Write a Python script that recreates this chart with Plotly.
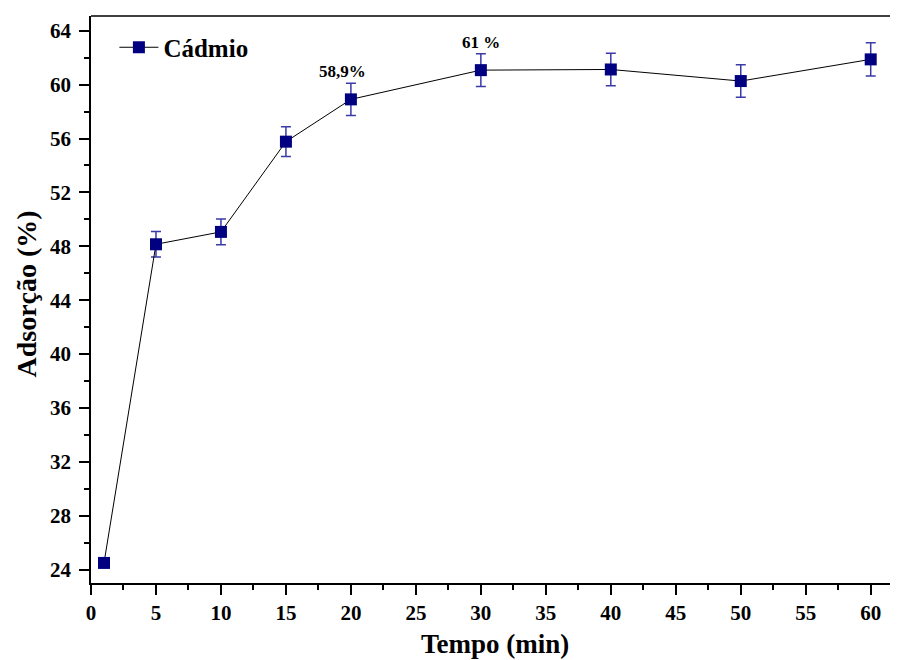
import plotly.graph_objects as go

tempo = [1, 5, 10, 15, 20, 30, 40, 50, 60]
adsorcao = [24.49, 48.15, 49.07, 55.77, 58.91, 61.08, 61.13, 60.27, 61.88]
erro = [0.25, 0.95, 0.96, 1.11, 1.19, 1.21, 1.21, 1.21, 1.24]
rotulos_x = [20, 30]
rotulos_y = [58.91, 61.08]
rotulos_txt = ["58,9%", "61 %"]

FONT = "Liberation Serif"

fig = go.Figure()
fig.add_trace(go.Scatter(
    x=tempo, y=adsorcao, mode="lines+markers", name="Cádmio",
    line=dict(color="black", width=1),
    marker=dict(symbol="square", size=12, color="#000080",
                line=dict(color="#000080", width=0)),
    error_y=dict(type="data", array=erro, visible=True,
                 color="#3a3aa8", thickness=1.5, width=5),
))

for xv, yv, t, xs, ys in zip(rotulos_x, rotulos_y, rotulos_txt, [-8, 0], [28, 28]):
    fig.add_annotation(x=xv, y=yv, text=t, showarrow=False,
                       xshift=xs, yshift=ys,
                       font=dict(family=FONT, size=17, color="black", weight="bold"))

axis_common = dict(
    showline=True, linecolor="black", linewidth=1.5, mirror=False,
    ticks="outside", ticklen=10, tickwidth=1.5, tickcolor="black",
    showgrid=False, zeroline=False, automargin=False,
    tickfont=dict(family=FONT, size=21, color="black", weight="bold"),
)

fig.update_xaxes(
    range=[0, 62.1], dtick=5, tick0=0,
    minor=dict(ticks="outside", ticklen=5, tickwidth=1.5, tickcolor="black", dtick=2.5, tick0=0),
    **axis_common,
)
fig.update_yaxes(
    range=[23.0, 65.1], dtick=4, tick0=0, ticklabelstandoff=4,
    minor=dict(ticks="outside", ticklen=5, tickwidth=1.5, tickcolor="black", dtick=2, tick0=0),
    **axis_common,
)

# axis titles
fig.add_annotation(xref="paper", yref="paper", x=0.5, y=0, yshift=-61,
                   xanchor="center", yanchor="middle", showarrow=False,
                   text="Tempo (min)",
                   font=dict(family=FONT, size=27, color="black", weight="bold"))
fig.add_annotation(xref="paper", yref="paper", x=0, xshift=-65, y=0.5, yshift=5,
                   xanchor="center", yanchor="middle", showarrow=False, textangle=-90,
                   text="Adsorção (%)",
                   font=dict(family=FONT, size=28, color="black", weight="bold"))

fig.add_shape(type="line", xref="paper", yref="paper", x0=0, x1=1, y0=1, y1=1,
              line=dict(color="black", width=1.5))

fig.update_layout(
    width=890, height=652,
    margin=dict(l=83, r=0, t=8, b=77),
    plot_bgcolor="white", paper_bgcolor="white",
    showlegend=True,
    legend=dict(x=0.029, y=0.985, xanchor="left", yanchor="top",
                bgcolor="rgba(0,0,0,0)",
                font=dict(family=FONT, size=25, color="black", weight="bold"),
                itemwidth=39),
)

fig.write_html("out.html")
